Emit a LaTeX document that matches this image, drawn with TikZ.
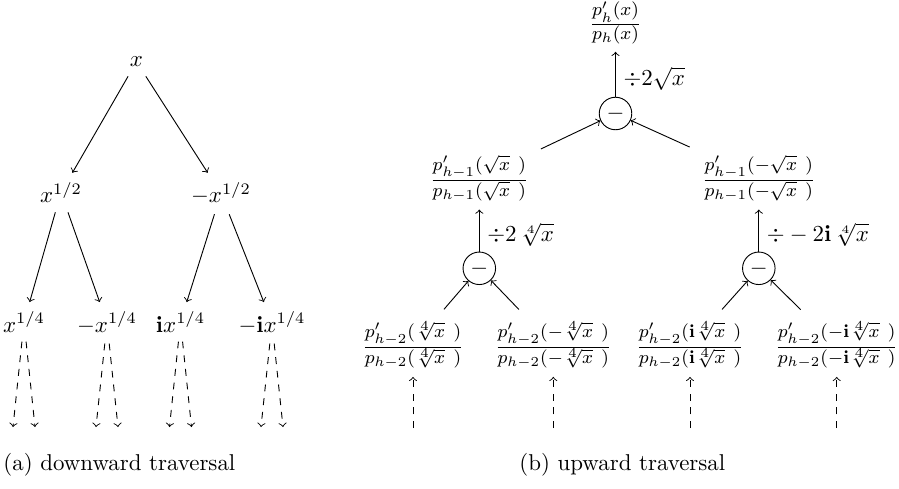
\documentclass[tikz,border=0pt]{standalone}
\usetikzlibrary{calc}
\begin{document}
\begin{tikzpicture}[x=0.4367pt,y=-0.4367pt,
  val/.style={inner sep=4pt,anchor=base},
  ratio/.style={anchor=base,font=\fontsize{10.95}{13}\selectfont},
  opnode/.style={draw,circle,inner sep=0pt,minimum size=14.2pt},
  flow/.style={->},
  more/.style={->,dashed},
  caption/.style={anchor=base west,inner sep=0pt}]
\useasboundingbox (0,0) rectangle (899,489);

% ---------- (a) downward traversal ----------
\node[val] (r)   at (136.5,66.7) {$x$};
\node[val] (a1)  at (61,202.7)   {$x^{1/2}$};
\node[val] (a2)  at (221,202.7)  {$-x^{1/2}$};
\node[val] (b1)  at (24,332)     {$x^{1/4}$};
\node[val] (b2)  at (107,332)    {$-x^{1/4}$};
\node[val] (b3)  at (180.5,332)  {$\mathbf{i}x^{1/4}$};
\node[val] (b4)  at (272,332)    {$-\mathbf{i}x^{1/4}$};

\draw[flow] (r) -- (a1);
\draw[flow] (r) -- (a2);
\draw[flow] (a1) -- (b1);
\draw[flow] (a1) -- (b2);
\draw[flow] (a2) -- (b3);
\draw[flow] (a2) -- (b4);

\foreach \n/\cx in {b1/24,b2/107,b3/180.5,b4/272}{
  \coordinate (\n l) at (\cx-11,427);
  \coordinate (\n r) at (\cx+11,427);
  \draw[more] (\n) -- (\n l);
  \draw[more] (\n) -- (\n r);
}

\node[caption] (capa) at (3,470) {(a) downward traversal};

% ---------- (b) upward traversal ----------
% fraction bars sit on the math axis, 6.3 units above the baseline
\node[ratio] (f0)  at (615.5,30.3)
  {$\frac{p'_h(x)}{p_h(x)}$};
\node[ratio] (f1a) at (479.3,186.3)
  {$\frac{p'_{h-1}(\sqrt{x}\ )}{p_{h-1}(\sqrt{x}\ )}$};
\node[ratio] (f1b) at (758.8,186.3)
  {$\frac{p'_{h-1}(-\sqrt{x}\ )}{p_{h-1}(-\sqrt{x}\ )}$};
\node[ratio] (f2a) at (413,353.3)
  {$\frac{p'_{h-2}(\sqrt[4]{x}\ )}{p_{h-2}(\sqrt[4]{x}\ )}$};
\node[ratio] (f2b) at (553.3,353.3)
  {$\frac{p'_{h-2}(-\sqrt[4]{x}\ )}{p_{h-2}(-\sqrt[4]{x}\ )}$};
\node[ratio] (f2c) at (690,353.3)
  {$\frac{p'_{h-2}(\mathbf{i}\sqrt[4]{x}\ )}{p_{h-2}(\mathbf{i}\sqrt[4]{x}\ )}$};
\node[ratio] (f2d) at (836.7,353.3)
  {$\frac{p'_{h-2}(-\mathbf{i}\sqrt[4]{x}\ )}{p_{h-2}(-\mathbf{i}\sqrt[4]{x}\ )}$};

\node[opnode] (c0)  at (615.5,113.5) {$-$};
\node[opnode] (c1a) at (479.3,268.3) {$-$};
\node[opnode] (c1b) at (758.8,268.3) {$-$};

\draw[flow] (c0) -- node[right,pos=0.4] {$\div 2\sqrt{x}$} (f0);
\draw[flow] (c1a) -- node[right,pos=0.4] {$\div 2\,\sqrt[4]{x}$} (f1a);
\draw[flow] (c1b) -- node[right,pos=0.4] {$\div -2\mathbf{i}\,\sqrt[4]{x}$} (f1b);

\draw[flow,shorten <=2pt] (f1a) -- (c0);
\draw[flow,shorten <=2pt] (f1b) -- (c0);
\draw[flow,shorten <=2.5pt] (f2a) -- (c1a);
\draw[flow,shorten <=2.5pt] (f2b) -- (c1a);
\draw[flow,shorten <=2.5pt] (f2c) -- (c1b);
\draw[flow,shorten <=2.5pt] (f2d) -- (c1b);

\foreach \n/\cx in {f2a/413,f2b/553.3,f2c/690,f2d/836.7}{
  \coordinate (\n u) at (\cx,428);
  \draw[more] (\n u) -- (\n);
}

\node[caption] (capb) at (519,470) {(b) upward traversal};
\end{tikzpicture}
\end{document}
